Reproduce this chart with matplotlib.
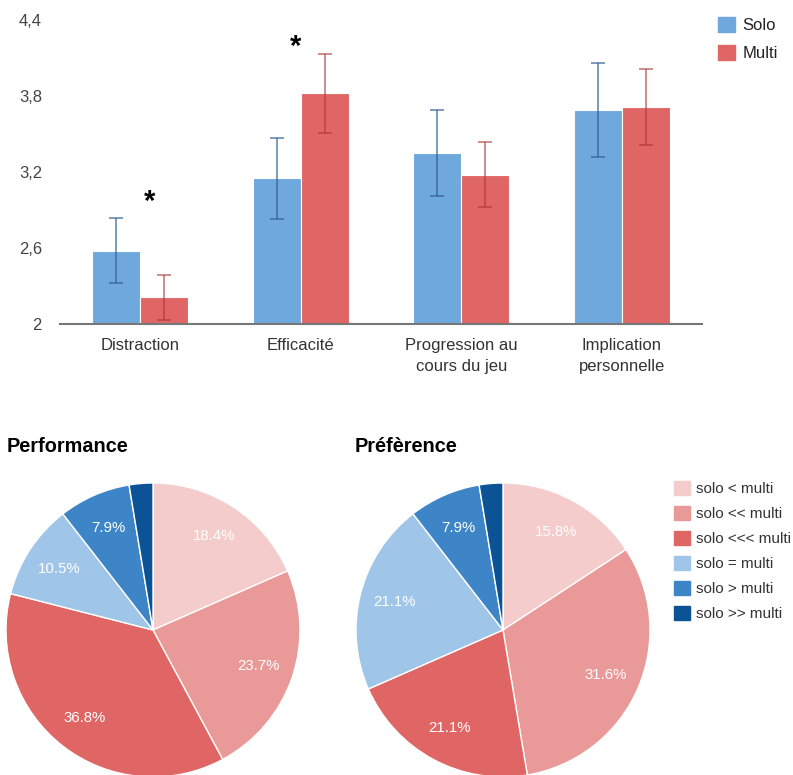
import numpy as np
import matplotlib.pyplot as plt
from matplotlib.patches import Patch

plt.rcParams['font.family'] = ['Liberation Sans', 'DejaVu Sans']

# bar chart data (mean + error)
categories = ['Distraction', 'Efficacité', 'Progression au\ncours du jeu', 'Implication\npersonnelle']
solo = [2.58, 3.15, 3.35, 3.69]
solo_err = [0.26, 0.32, 0.34, 0.37]
multi = [2.21, 3.82, 3.18, 3.71]
multi_err = [0.18, 0.31, 0.26, 0.30]
yticks = [2, 2.6, 3.2, 3.8, 4.4]
ytick_labels = ['2', '2,6', '3,2', '3,8', '4,4']
# significance stars: (group index offset, y)
star_x = [0.06, 0.97]
star_y = [2.96, 4.19]

# pie data
pie_labels = ['solo < multi', 'solo << multi', 'solo <<< multi',
              'solo = multi', 'solo > multi', 'solo >> multi']
performance = [18.4, 23.7, 36.8, 10.5, 7.9, 2.6]
preference = [15.8, 31.6, 21.1, 21.1, 7.9, 2.6]
pie_colors = ['#f4cccc', '#ea9999', '#e06666', '#9fc5e8', '#3d85c6', '#0b5394']

c_solo = '#6fa8dc'
c_multi = '#e06666'

W, H = 793, 775
fig = plt.figure(figsize=(W / 100, H / 100), dpi=100)

# ---- bar chart ----
ax = fig.add_axes([60 / W, 1 - 324 / H, 642 / W, 304 / H])
x = np.arange(len(categories))
bw = 0.3
ax.bar(x - bw / 2, solo, bw, color=c_solo, edgecolor='white', linewidth=0.8, zorder=2)
ax.bar(x + bw / 2, multi, bw, color=c_multi, edgecolor='white', linewidth=0.8, zorder=2)
ax.errorbar(x - bw / 2, solo, yerr=solo_err, fmt='none', ecolor='#2d5f95', alpha=0.8,
            elinewidth=1.1, capsize=5, capthick=1.1, zorder=3)
ax.errorbar(x + bw / 2, multi, yerr=multi_err, fmt='none', ecolor='#aa3333', alpha=0.7,
            elinewidth=1.1, capsize=5, capthick=1.1, zorder=3)
for sx, sy in zip(star_x, star_y):
    ax.text(sx, sy, '*', ha='center', va='center', fontsize=21, fontweight='bold', color='black')

ax.set_ylim(2, 4.4)
ax.set_xlim(-0.5, 3.5)
ax.set_yticks(yticks)
ax.set_yticklabels(ytick_labels)
ax.set_xticks(x)
ax.set_xticklabels(categories, linespacing=1.55)
ax.tick_params(axis='y', length=0, pad=13, labelsize=12, labelcolor='#444444')
ax.tick_params(axis='x', length=0, pad=10, labelsize=12, labelcolor='#333333')
for s in ['top', 'right', 'left']:
    ax.spines[s].set_visible(False)
ax.spines['bottom'].set_color('#777777')
ax.spines['bottom'].set_linewidth(1.5)

fig.legend(handles=[Patch(color=c_solo, label='Solo'), Patch(color=c_multi, label='Multi')],
           loc='upper left', bbox_to_anchor=(718 / W, 1 - 17 / H), frameon=False,
           fontsize=12, handlelength=1.0, handleheight=1.0, handletextpad=0.45,
           labelspacing=0.73, borderpad=0, borderaxespad=0, labelcolor='#222222')


# ---- pies ----
def autopct(p):
    return '{:.1f}%'.format(p) if p > 5 else ''


r = 147
for vals, cx, title, tx in [(performance, 153, 'Performance', 7),
                            (preference, 503, 'Préfèrence', 355)]:
    pax = fig.add_axes([(cx - r) / W, (H - 630 - r) / H, 2 * r / W, 2 * r / H])
    pax.pie(vals, colors=pie_colors, startangle=90, counterclock=False,
            autopct=autopct, pctdistance=0.76,
            wedgeprops=dict(edgecolor='white', linewidth=1),
            textprops=dict(color='white', fontsize=10.8))
    pax.set_xlim(-1, 1)
    pax.set_ylim(-1, 1)
    pax.axis('off')
    fig.text(tx / W, 1 - 447 / H, title, fontsize=14.3, fontweight='bold', va='center', ha='left')

fig.legend(handles=[Patch(color=c, label=l) for c, l in zip(pie_colors, pie_labels)],
           loc='upper left', bbox_to_anchor=(674 / W, 1 - 481 / H), frameon=False,
           fontsize=11, handlelength=1.05, handleheight=1.05, handletextpad=0.4,
           labelspacing=0.63, borderpad=0, borderaxespad=0, labelcolor='#333333')

fig.savefig('out.png', dpi=100)
